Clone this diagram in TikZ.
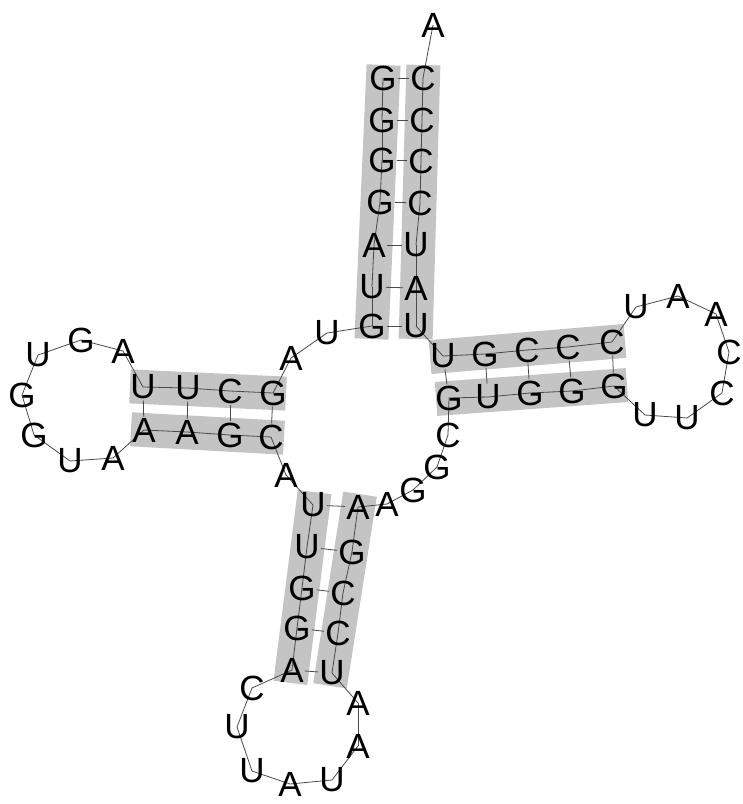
\documentclass[tikz,border=0pt]{standalone}
\usepackage{fontspec}
\setmainfont{Liberation Sans}
\usepackage{tikz}
\usetikzlibrary{backgrounds}
\definecolor{stemgray}{HTML}{C4C4C4}
\definecolor{linegray}{HTML}{4A4A4A}
\tikzset{
  nt/.style={font=\fontsize{35}{35}\selectfont, inner sep=1pt, text=black},
  band/.style={line width=34pt, draw=stemgray, shorten <=-13pt, shorten >=-13pt},
  bb/.style={draw=linegray, line width=0.8pt},
  pair/.style={draw=linegray, line width=0.8pt},
}
\begin{document}
\begin{tikzpicture}[x=1pt, y=-1pt]
  \useasboundingbox (0,0) rectangle (743,804);
  % acceptor stem, 5' strand
  \node[nt] (n1) at (383,78) {G};
  \node[nt] (n2) at (382,120) {G};
  \node[nt] (n3) at (382,160) {G};
  \node[nt] (n4) at (380,202) {G};
  \node[nt] (n5) at (374,245) {A};
  \node[nt] (n6) at (372,287) {U};
  \node[nt] (n7) at (372,326) {G};
  \node[nt] (n8) at (327,333) {U};
  \node[nt] (n9) at (291,358) {A};
  % D arm
  \node[nt] (n10) at (273,393) {G};
  \node[nt] (n11) at (230,391) {C};
  \node[nt] (n12) at (188,388) {U};
  \node[nt] (n13) at (143,387) {U};
  \node[nt] (n14) at (123,351) {A};
  \node[nt] (n15) at (81,340) {G};
  \node[nt] (n16) at (38,355) {U};
  \node[nt] (n17) at (22,395) {G};
  \node[nt] (n18) at (34,435) {G};
  \node[nt] (n19) at (70,461) {U};
  \node[nt] (n20) at (113,458) {A};
  \node[nt] (n21) at (144,430) {A};
  \node[nt] (n22) at (187,432) {A};
  \node[nt] (n23) at (230,435) {G};
  \node[nt] (n24) at (271,437) {C};
  \node[nt] (n25) at (286,475) {A};
  % anticodon arm
  \node[nt] (n26) at (313,505) {U};
  \node[nt] (n27) at (307,547) {U};
  \node[nt] (n28) at (302,588) {G};
  \node[nt] (n29) at (297,628) {G};
  \node[nt] (n30) at (292,670) {A};
  \node[nt] (n31) at (252,688) {C};
  \node[nt] (n32) at (237,727) {U};
  \node[nt] (n33) at (252,771) {U};
  \node[nt] (n34) at (290,784) {A};
  \node[nt] (n35) at (332,780) {U};
  \node[nt] (n36) at (358,746) {A};
  \node[nt] (n37) at (358,703) {A};
  \node[nt] (n38) at (332,673) {U};
  \node[nt] (n39) at (338,633) {C};
  \node[nt] (n40) at (343,593) {C};
  \node[nt] (n41) at (352,552) {G};
  \node[nt] (n42) at (358,507) {A};
  \node[nt] (n43) at (387,504) {A};
  \node[nt] (n44) at (413,490) {G};
  \node[nt] (n45) at (437,467) {G};
  \node[nt] (n46) at (448,435) {C};
  % T arm
  \node[nt] (n47) at (449,398) {G};
  \node[nt] (n48) at (488,397) {U};
  \node[nt] (n49) at (530,393) {G};
  \node[nt] (n50) at (572,391) {G};
  \node[nt] (n51) at (614,386) {G};
  \node[nt] (n52) at (645,415) {U};
  \node[nt] (n53) at (687,418) {U};
  \node[nt] (n54) at (722,393) {C};
  \node[nt] (n55) at (729,352) {C};
  \node[nt] (n56) at (716,314) {A};
  \node[nt] (n57) at (678,296) {A};
  \node[nt] (n58) at (636,307) {U};
  \node[nt] (n59) at (612,342) {C};
  \node[nt] (n60) at (568,347) {C};
  \node[nt] (n61) at (527,350) {C};
  \node[nt] (n62) at (485,354) {G};
  \node[nt] (n63) at (443,356) {U};
  % acceptor stem, 3' strand
  \node[nt] (n64) at (416,326) {U};
  \node[nt] (n65) at (416,288) {A};
  \node[nt] (n66) at (416,245) {U};
  \node[nt] (n67) at (420,203) {C};
  \node[nt] (n68) at (421,161) {C};
  \node[nt] (n69) at (422,120) {C};
  \node[nt] (n70) at (423,78) {C};
  \node[nt] (n71) at (433,25) {A};

  \begin{scope}[on background layer]
    % stem shading
    \draw[band] (n1.center) -- (n7.center);
    \draw[band] (n64.center) -- (n70.center);
    \draw[band] (n13.center) -- (n10.center);
    \draw[band] (n21.center) -- (n24.center);
    \draw[band] (n26.center) -- (n30.center);
    \draw[band] (n38.center) -- (n42.center);
    \draw[band] (n47.center) -- (n51.center);
    \draw[band] (n59.center) -- (n63.center);
    % backbone
    \foreach \i [evaluate=\i as \j using int(\i+1)] in {1,...,70}
      \draw[bb] (n\i.center) -- (n\j.center);
    % base pairs
    \draw[pair] (n1) -- (n70);
    \draw[pair] (n2) -- (n69);
    \draw[pair] (n3) -- (n68);
    \draw[pair] (n4) -- (n67);
    \draw[pair] (n5) -- (n66);
    \draw[pair] (n6) -- (n65);
    \draw[pair] (n7) -- (n64);
    \draw[pair] (n10) -- (n24);
    \draw[pair] (n11) -- (n23);
    \draw[pair] (n12) -- (n22);
    \draw[pair] (n13) -- (n21);
    \draw[pair] (n26) -- (n42);
    \draw[pair] (n27) -- (n41);
    \draw[pair] (n28) -- (n40);
    \draw[pair] (n29) -- (n39);
    \draw[pair] (n30) -- (n38);
    \draw[pair] (n47) -- (n63);
    \draw[pair] (n48) -- (n62);
    \draw[pair] (n49) -- (n61);
    \draw[pair] (n50) -- (n60);
    \draw[pair] (n51) -- (n59);
  \end{scope}
\end{tikzpicture}
\end{document}
